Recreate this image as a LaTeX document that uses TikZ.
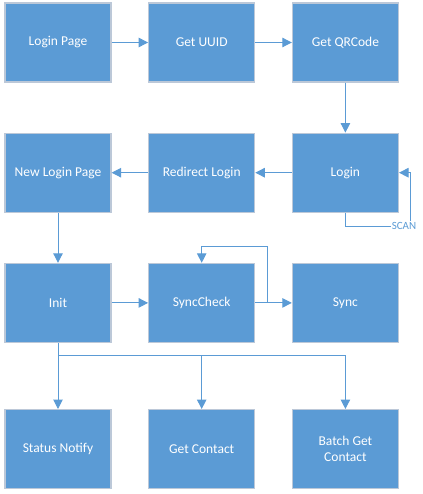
\documentclass[tikz,border=0pt]{standalone}
\usepackage{fontspec}
\setmainfont{Carlito}
\usetikzlibrary{positioning,arrows.meta}
\definecolor{boxblue}{HTML}{5B9BD5}
\definecolor{boxline}{HTML}{BCC8D8}

\begin{document}
\begin{tikzpicture}[x=1pt,y=-1pt,
	box/.style={rectangle, draw=boxline, line width=1.2pt, fill=boxblue, text=white,
		minimum width=106pt, minimum height=79pt, inner sep=0pt, align=center,
		font=\fontsize{13.5}{16.3}\selectfont},
	link/.style={draw=boxblue, line width=1pt, -{Triangle[length=9.5pt,width=9.5pt]}},
	scanlabel/.style={fill=white, text=boxblue, inner sep=1pt, font=\fontsize{11}{12}\selectfont},
	node distance=50pt and 36.5pt]
\useasboundingbox (0,0) rectangle (422,494);
\node [box] (a) at (58,42.5) {Login Page};
\node [box, right=of a] (b) {Get UUID};
\node [box, right=of b] (c) {Get QRCode};
\node [box, below=of c] (d) {Login};
\node [box, left=of d] (e) {Redirect Login};
\node [box, left=of e] (f) {New Login Page};
\node [box, below=of f] (g) {Init};
\node [box, right=of g] (h) {SyncCheck};
\node [box, right=of h] (i) {Sync};
\node [box, below=66pt of g] (j) {Status Notify};
\node [box, right=of j] (k) {Get Contact};
\node [box, right=of k] (l) {Batch Get\\Contact};

\draw [link] (a) -- (b);
\draw [link] (b) -- (c);
\draw [link] (c) -- (d);
\draw [link] (d) -- (e);
\draw [link] (e) -- (f);
\draw [link] (f) -- (g);
\draw [link] (g) -- (h);
\draw [link] (h) -- (i);

\coordinate (r) at (267.7,246.7);
\draw [link] (h.east) -| (r) -| (h.north);

\coordinate (s) at (410.7,226);
\draw [link] (d.south) |- (s) |- (d.east);
\node [scanlabel] (scan) at (404,226) {SCAN};

\coordinate (t) at (58,355);
\draw [link] (g.south) -- (j.north);
\draw [link] (t) -| (k.north);
\draw [link] (t) -| (l.north);
\end{tikzpicture}
\end{document}
